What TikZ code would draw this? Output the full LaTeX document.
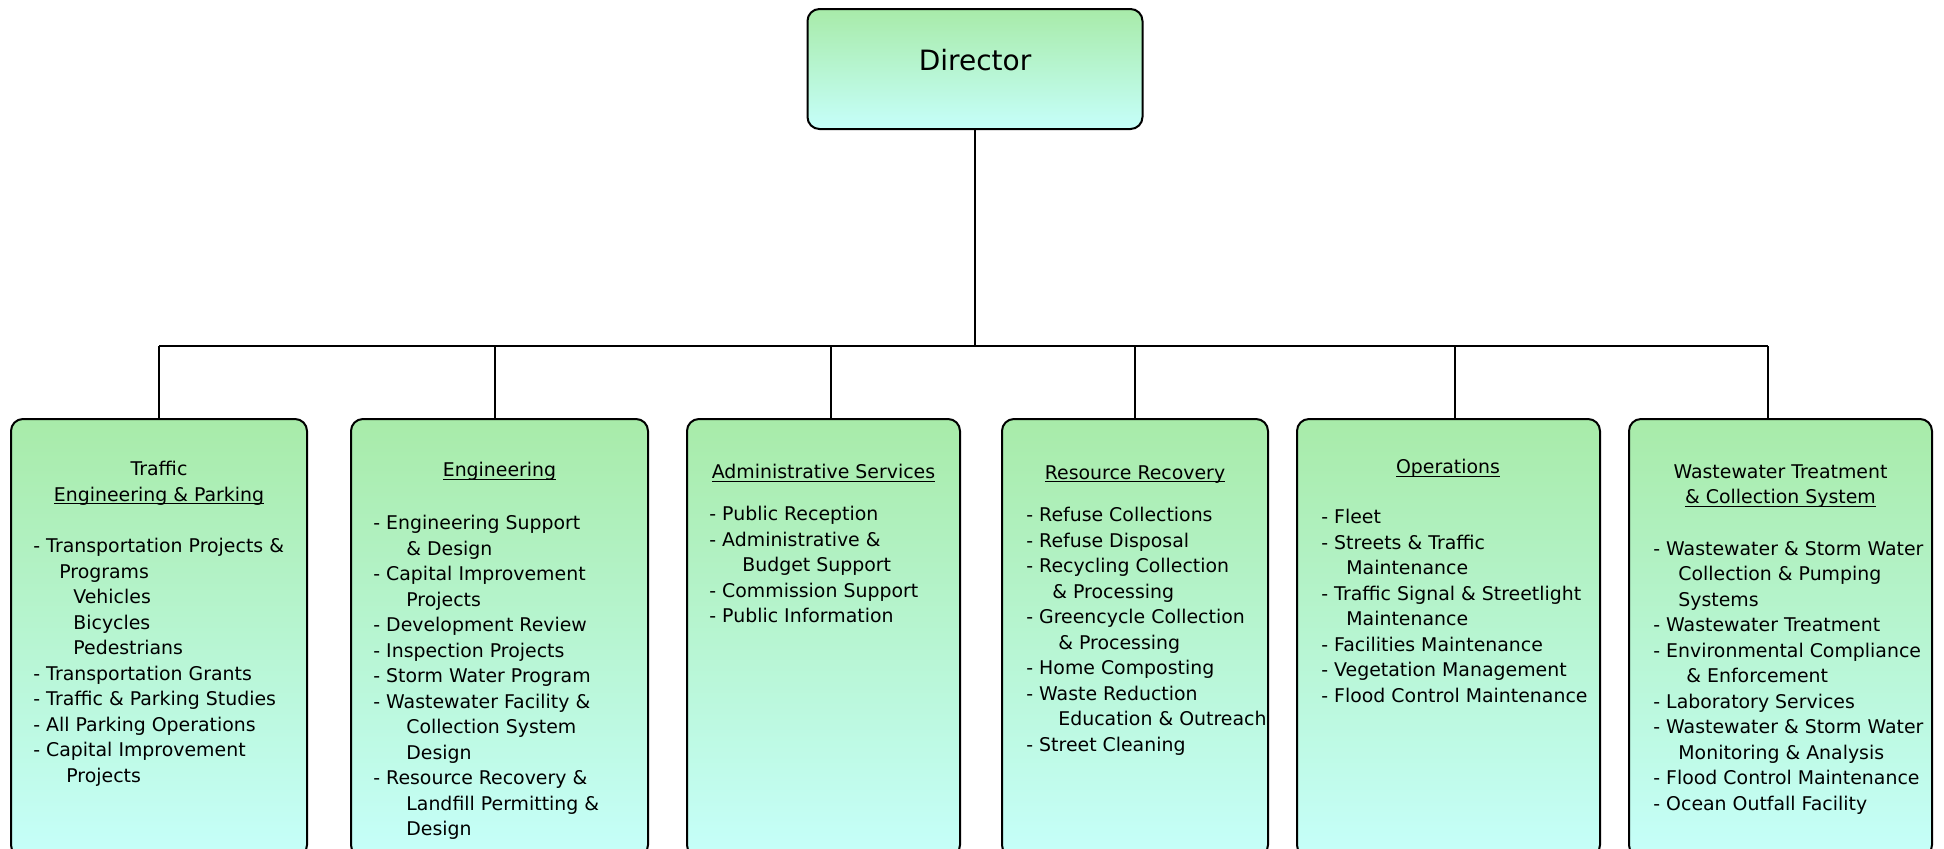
\documentclass[tikz,border=0pt]{standalone}
\usepackage{fontspec}
\setmainfont{DejaVu Sans}
\definecolor{boxtop}{HTML}{A8EBA9}
\definecolor{boxbot}{HTML}{C6FFFA}
\newcommand{\hdul}[1]{\leavevmode\setbox0=\hbox{#1}\rlap{\rule[-1.5pt]{\wd0}{0.55pt}}\box0}
\tikzset{
    orgbox/.style={draw, line width=1pt, rounded corners=6pt, top color=boxtop, bottom color=boxbot, inner sep=0pt},
    deptbox/.style={orgbox, minimum height=219pt, anchor=north},
    headtxt/.style={align=center, inner sep=0pt, anchor=north, font=\fontsize{9.45}{12.75}\selectfont},
    listtxt/.style={align=left, inner sep=0pt, anchor=north west, font=\fontsize{9.45}{12.75}\selectfont},
    link/.style={line width=1pt}
}

\begin{document}
\begin{tikzpicture}[x=0.5pt, y=-0.5pt]
    \useasboundingbox (0, 0) rectangle (1944, 848);
    \clip (0, 0) rectangle (1944, 848);

    \node[orgbox, minimum width=167.5pt, minimum height=60pt] (dir) at (975, 69) {};
    \node[font=\fontsize{14}{16}\selectfont] (dirlbl) at (975, 60) {Director};

    \node[deptbox, minimum width=148pt] (traffic) at (159, 418) {};
    \node[deptbox, minimum width=148.5pt] (eng) at (499.5, 418) {};
    \node[deptbox, minimum width=136.5pt] (admin) at (823.5, 418) {};
    \node[deptbox, minimum width=133pt] (resrec) at (1135, 418) {};
    \node[deptbox, minimum width=151.5pt] (ops) at (1448.5, 418) {};
    \node[deptbox, minimum width=151.5pt] (wwt) at (1780.5, 418) {};

    \coordinate (j1) at (159, 346);
    \coordinate (j2) at (495, 346);
    \coordinate (j3) at (831, 346);
    \coordinate (j4) at (1135, 346);
    \coordinate (j5) at (1455, 346);
    \coordinate (j6) at (1768, 346);
    \draw[link] (dir) -- (dir.south |- j1);
    \draw[link] (j1) -- (j6);
    \foreach \j/\b in {j1/traffic, j2/eng, j3/admin, j4/resrec, j5/ops, j6/wwt} {
        \draw[link] (\j) -- (\j |- \b.north);
    }

    \node[headtxt] (traffichd) at (159, 461) {Traffic\\\hdul{Engineering \& Parking}};
    \node[listtxt] (trafficls) at (33, 538) {- Transportation Projects \&\\
        \hspace*{13pt}Programs\\
        \hspace*{20pt}Vehicles\\
        \hspace*{20pt}Bicycles\\
        \hspace*{20pt}Pedestrians\\
        - Transportation Grants\\
        - Traffic \& Parking Studies\\
        - All Parking Operations\\
        - Capital Improvement\\
        \hspace*{16.5pt}Projects};

    \node[headtxt] (enghd) at (499.5, 462) {\hdul{Engineering}};
    \node[listtxt] (engls) at (373, 515) {- Engineering Support\\
        \hspace*{16.5pt}\& Design\\
        - Capital Improvement\\
        \hspace*{16.5pt}Projects\\
        - Development Review\\
        - Inspection Projects\\
        - Storm Water Program\\
        - Wastewater Facility \&\\
        \hspace*{16.5pt}Collection System\\
        \hspace*{16.5pt}Design\\
        - Resource Recovery \&\\
        \hspace*{16.5pt}Landfill Permitting \&\\
        \hspace*{16.5pt}Design};

    \node[headtxt] (adminhd) at (823.5, 464) {\hdul{Administrative Services}};
    \node[listtxt] (adminls) at (709, 506) {- Public Reception\\
        - Administrative \&\\
        \hspace*{16.5pt}Budget Support\\
        - Commission Support\\
        - Public Information};

    \node[headtxt] (resrechd) at (1135, 465) {\hdul{Resource Recovery}};
    \node[listtxt] (resrecls) at (1026, 507) {- Refuse Collections\\
        - Refuse Disposal\\
        - Recycling Collection\\
        \hspace*{13pt}\& Processing\\
        - Greencycle Collection\\
        \hspace*{16pt}\& Processing\\
        - Home Composting\\
        - Waste Reduction\\
        \hspace*{16pt}Education \& Outreach\\
        - Street Cleaning};

    \node[headtxt] (opshd) at (1448, 459) {\hdul{Operations}};
    \node[listtxt] (opsls) at (1321, 509) {- Fleet\\
        - Streets \& Traffic\\
        \hspace*{12.5pt}Maintenance\\
        - Traffic Signal \& Streetlight\\
        \hspace*{12.5pt}Maintenance\\
        - Facilities Maintenance\\
        - Vegetation Management\\
        - Flood Control Maintenance};

    \node[headtxt] (wwthd) at (1780.5, 464) {Wastewater Treatment\\\hdul{\& Collection System}};
    \node[listtxt] (wwtls) at (1653, 541) {- Wastewater \& Storm Water\\
        \hspace*{12.5pt}Collection \& Pumping\\
        \hspace*{12.5pt}Systems\\
        - Wastewater Treatment\\
        - Environmental Compliance\\
        \hspace*{16.5pt}\& Enforcement\\
        - Laboratory Services\\
        - Wastewater \& Storm Water\\
        \hspace*{12.5pt}Monitoring \& Analysis\\
        - Flood Control Maintenance\\
        - Ocean Outfall Facility};
\end{tikzpicture}
\end{document}
